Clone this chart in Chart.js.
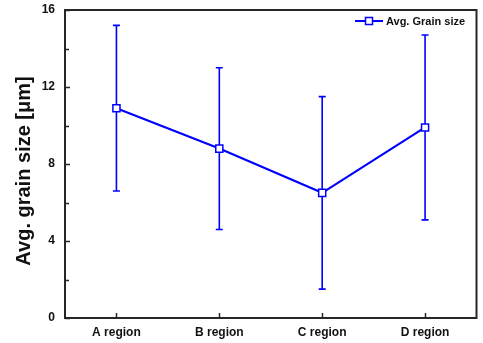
<!DOCTYPE html>
<html><head><meta charset="utf-8">
<script src="https://cdn.jsdelivr.net/npm/chart.js@4/dist/chart.umd.min.js"></script>
<style>html,body{margin:0;padding:0;background:#fff}canvas{display:block}</style>
</head><body>
<canvas id="c" width="483" height="343"></canvas>
<script>
// Average grain size per region, with standard deviation
const regions = ['A region', 'B region', 'C region', 'D region'];
const grainSize = [10.9, 8.8, 6.5, 9.9];
const grainErr = [4.3, 4.2, 5.0, 4.8];
const yMajorTicks = [0, 4, 8, 12, 16];
const yMinorTicks = [2, 6, 10, 14];
const seriesLabel = 'Avg. Grain size';
const yTitle = 'Avg. grain size [\u03bcm]';

const FONT = '"Liberation Sans", Arial, sans-serif';
const BLUE = '#0000ff';
const FRAME = '#262626';

// Vertical error bars with caps, drawn under the line and markers
const errorBars = {
  id: 'errorBars',
  beforeDatasetsDraw(chart) {
    const {ctx, scales: {x, y}} = chart;
    ctx.save();
    ctx.strokeStyle = BLUE;
    ctx.lineWidth = 1.6;
    grainSize.forEach((v, i) => {
      const px = x.getPixelForValue(i);
      const top = y.getPixelForValue(v + grainErr[i]);
      const bot = y.getPixelForValue(v - grainErr[i]);
      ctx.beginPath();
      ctx.moveTo(px, top); ctx.lineTo(px, bot);
      ctx.moveTo(px - 3.5, top); ctx.lineTo(px + 3.5, top);
      ctx.moveTo(px - 3.5, bot); ctx.lineTo(px + 3.5, bot);
      ctx.stroke();
    });
    ctx.restore();
  }
};

// Box frame, inward tick marks, rotated axis title and inset legend
const frameAndDecor = {
  id: 'frameAndDecor',
  afterDraw(chart) {
    const {ctx, chartArea: a, scales: {x, y}} = chart;
    ctx.save();
    ctx.strokeStyle = FRAME;
    ctx.lineWidth = 1.5;
    ctx.beginPath();
    yMajorTicks.concat(yMinorTicks).forEach(t => {
      const py = Math.round(y.getPixelForValue(t)) + 0.5;
      const len = yMajorTicks.includes(t) ? 5 : 4;
      ctx.moveTo(a.left, py); ctx.lineTo(a.left + len, py);
    });
    regions.forEach((r, i) => {
      const px = Math.round(x.getPixelForValue(i)) + 0.5;
      ctx.moveTo(px, a.bottom); ctx.lineTo(px, a.bottom - 5);
    });
    ctx.stroke();
    ctx.lineWidth = 2;
    ctx.strokeRect(a.left, a.top, a.right - a.left, a.bottom - a.top);

    // axis title
    ctx.fillStyle = '#111';
    ctx.font = 'bold 20px ' + FONT;
    ctx.textAlign = 'center';
    ctx.textBaseline = 'middle';
    ctx.translate(24, 171);
    ctx.rotate(-Math.PI / 2);
    ctx.fillText(yTitle, 0, 0);
    ctx.setTransform(1, 0, 0, 1, 0, 0);

    // legend
    const ly = a.top + 11;
    ctx.strokeStyle = BLUE;
    ctx.lineWidth = 2;
    ctx.beginPath();
    ctx.moveTo(355, ly); ctx.lineTo(383, ly);
    ctx.stroke();
    ctx.fillStyle = '#fff';
    ctx.lineWidth = 1.5;
    ctx.fillRect(365.5, ly - 3.5, 7, 7);
    ctx.strokeRect(365.5, ly - 3.5, 7, 7);
    ctx.fillStyle = '#111';
    ctx.font = 'bold 11px ' + FONT;
    ctx.textAlign = 'left';
    ctx.fillText(seriesLabel, 386, ly + 0.5);
    ctx.restore();
  }
};

new Chart(document.getElementById('c'), {
  type: 'line',
  data: {
    labels: regions,
    datasets: [{
      label: seriesLabel,
      data: grainSize,
      borderColor: BLUE,
      borderWidth: 2.2,
      backgroundColor: '#fff',
      pointStyle: 'rect',
      pointRadius: 5,
      pointBorderWidth: 1.5,
      pointBackgroundColor: '#fff',
      pointBorderColor: BLUE,
      tension: 0
    }]
  },
  options: {
    responsive: false,
    animation: false,
    layout: {padding: {top: 10, right: 4, left: 0, bottom: 0}},
    plugins: {legend: {display: false}, tooltip: {enabled: false}},
    scales: {
      x: {
        type: 'category',
        offset: true,
        grid: {display: false, drawTicks: false},
        border: {display: false},
        ticks: {color: '#111', font: {family: FONT, size: 12, weight: 'bold'}, padding: 7, maxRotation: 0},
        afterFit(s) { s.height = 25; s.paddingLeft = 0; s.paddingRight = 0; }
      },
      y: {
        min: 0, max: 16,
        grid: {display: false, drawTicks: false},
        border: {display: false},
        ticks: {stepSize: 4, color: '#111', font: {family: FONT, size: 12, weight: 'bold'}, padding: 10},
        afterFit(s) { s.width = 65; s.paddingTop = 0; s.paddingBottom = 0; }
      }
    }
  },
  plugins: [errorBars, frameAndDecor]
});
</script>
</body></html>
